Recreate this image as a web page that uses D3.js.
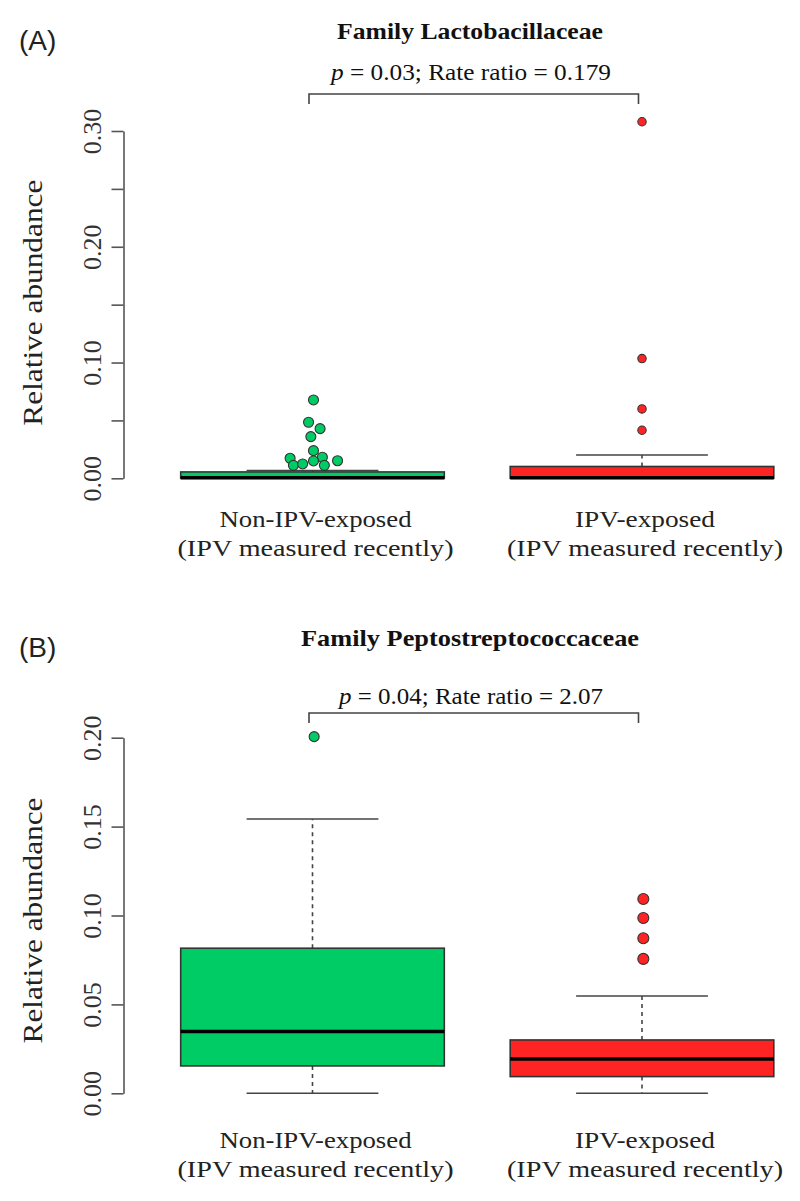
<!DOCTYPE html>
<html>
<head>
<meta charset="utf-8">
<script src="https://cdn.jsdelivr.net/npm/d3@7"></script>
<style>
  html, body { margin: 0; padding: 0; background: #fff; }
  svg { display: block; }
</style>
</head>
<body>
<svg id="chart" width="800" height="1201"></svg>
<script>
// ---------- data ----------
const groups = ["Non-IPV-exposed", "IPV-exposed"];
const groupSubLabel = "(IPV measured recently)";
const groupColors = ["#00cc66", "#ff2424"];

// Panel A: Family Lactobacillaceae
const lactoTitle = "Family Lactobacillaceae";
const lactoP = "0.03";
const lactoRR = "0.179";
const lactoTicks = [0, 0.05, 0.10, 0.15, 0.20, 0.25, 0.30];
const lactoTickLabels = ["0.00", "", "0.10", "", "0.20", "", "0.30"];
const lactoLowWhisker = [0, 0];
const lactoQ1 = [0, 0];
const lactoMedian = [0.0005, 0.0005];
const lactoQ3 = [0.0055, 0.0102];
const lactoHighWhisker = [0.0068, 0.0201];
const lactoOutliersNon = [0.0677, 0.0484, 0.0429, 0.0360, 0.0239, 0.0173, 0.0182, 0.0150, 0.0152, 0.0112, 0.0124, 0.0112];
const lactoJitterNon = [0.003, -0.012, 0.023, -0.005, 0.003, -0.068, 0.030, 0.003, 0.076, -0.058, -0.030, 0.036];
const lactoOutliersIPV = [0.308, 0.1034, 0.0599, 0.0415];
const lactoJitterIPV = [0, 0, 0, 0];

// Panel B: Family Peptostreptococcaceae
const peptoTitle = "Family Peptostreptococcaceae";
const peptoP = "0.04";
const peptoRR = "2.07";
const peptoTicks = [0, 0.05, 0.10, 0.15, 0.20];
const peptoTickLabels = ["0.00", "0.05", "0.10", "0.15", "0.20"];
const peptoLowWhisker = [0, 0];
const peptoQ1 = [0.0154, 0.0094];
const peptoMedian = [0.0347, 0.0193];
const peptoQ3 = [0.0816, 0.0300];
const peptoHighWhisker = [0.1543, 0.0547];
const peptoOutliersNon = [0.2006];
const peptoJitterNon = [0.005];
const peptoOutliersIPV = [0.1093, 0.0986, 0.0872, 0.0756];
const peptoJitterIPV = [0.004, 0.004, 0.004, 0.004];

// ---------- drawing ----------
const svg = d3.select("#chart");
const serif = "'Liberation Serif', 'Times New Roman', serif";
const sans = "'Liberation Sans', Arial, sans-serif";

const x = d3.scalePoint().domain(groups).range([312.5, 642]);
const boxW = x.step() * 0.8;
const capW = x.step() * 0.4;
const groupLabelLen = [192, 140];

function panel(cfg) {
  const g = svg.append("g");
  const y = d3.scaleLinear().domain(cfg.domain).range(cfg.yRange);

  // panel letter
  g.append("text").attr("x", 19).attr("y", cfg.letterY)
    .attr("font-family", sans).attr("font-size", 28).attr("fill", "#222")
    .text(cfg.letter);

  // title
  g.append("text").attr("x", 470).attr("y", cfg.titleY)
    .attr("text-anchor", "middle").attr("font-family", serif)
    .attr("font-weight", "bold").attr("font-size", 23).attr("fill", "#111")
    .attr("textLength", cfg.titleLen).attr("lengthAdjust", "spacingAndGlyphs")
    .text(cfg.title);

  // p-value text
  const pt = g.append("text").attr("x", 471).attr("y", cfg.pY)
    .attr("text-anchor", "middle").attr("font-family", serif)
    .attr("font-size", 23).attr("fill", "#111")
    .attr("textLength", cfg.pLen).attr("lengthAdjust", "spacingAndGlyphs");
  pt.append("tspan").attr("font-style", "italic").text("p");
  pt.append("tspan").text(" = " + cfg.p + "; Rate ratio = " + cfg.rr);

  // bracket
  const bx0 = x(groups[0]) - 3.5, bx1 = x(groups[1]) - 3.5;
  g.append("path")
    .attr("d", `M${bx0},${cfg.bracketY + 10}V${cfg.bracketY}H${bx1}V${cfg.bracketY + 10}`)
    .attr("fill", "none").attr("stroke", "#444").attr("stroke-width", 1.6);

  // y axis
  const axisX = 123.5;
  const axis = d3.axisLeft(y).tickValues(cfg.ticks)
    .tickFormat((d, i) => cfg.tickLabels[i]).tickSize(12).tickSizeOuter(0);
  const ag = g.append("g").attr("transform", `translate(${axisX},0)`).call(axis);
  ag.select(".domain").attr("stroke", "#555").attr("stroke-width", 1.6);
  ag.selectAll(".tick line").attr("stroke", "#555").attr("stroke-width", 1.6);
  ag.selectAll(".tick text")
    .attr("font-family", serif).attr("font-size", 26).attr("fill", "#333")
    .attr("text-anchor", "middle")
    .attr("x", 0).attr("y", 0).attr("dy", 0)
    .attr("transform", "translate(-23,0) rotate(-90)");

  // y title
  const ymid = (cfg.yRange[0] + cfg.yRange[1]) / 2 + cfg.yTitleShift;
  g.append("text")
    .attr("transform", `translate(42,${ymid}) rotate(-90)`)
    .attr("text-anchor", "middle").attr("font-family", serif)
    .attr("font-size", 27).attr("fill", "#222")
    .attr("textLength", 246).attr("lengthAdjust", "spacingAndGlyphs")
    .text("Relative abundance");

  // boxes
  groups.forEach((grp, i) => {
    const cx = x(grp);
    const gg = g.append("g");
    // dashed whiskers
    gg.append("line").attr("x1", cx).attr("x2", cx)
      .attr("y1", y(cfg.q3[i])).attr("y2", y(cfg.hi[i]))
      .attr("stroke", "#444").attr("stroke-width", 1.6).attr("stroke-dasharray", "4,4");
    gg.append("line").attr("x1", cx).attr("x2", cx)
      .attr("y1", y(cfg.q1[i])).attr("y2", y(cfg.lo[i]))
      .attr("stroke", "#444").attr("stroke-width", 1.6).attr("stroke-dasharray", "4,4");
    // caps
    [cfg.hi[i], cfg.lo[i]].forEach(v => {
      gg.append("line").attr("x1", cx - capW / 2).attr("x2", cx + capW / 2)
        .attr("y1", y(v)).attr("y2", y(v))
        .attr("stroke", "#444").attr("stroke-width", 1.6);
    });
    // box
    gg.append("rect").attr("x", cx - boxW / 2).attr("width", boxW)
      .attr("y", y(cfg.q3[i])).attr("height", Math.max(1, y(cfg.q1[i]) - y(cfg.q3[i])))
      .attr("fill", groupColors[i]).attr("stroke", "#333").attr("stroke-width", 1.6);
    // median
    gg.append("line").attr("x1", cx - boxW / 2).attr("x2", cx + boxW / 2)
      .attr("y1", y(cfg.med[i])).attr("y2", y(cfg.med[i]))
      .attr("stroke", "#000").attr("stroke-width", 3.5);
    // outliers
    const outs = cfg.outliers[i], jit = cfg.jitter[i];
    gg.selectAll("circle").data(outs).join("circle")
      .attr("cx", (d, j) => cx + jit[j] * x.step())
      .attr("cy", d => y(d))
      .attr("r", cfg.r[i])
      .attr("fill", groupColors[i]).attr("stroke", "#333").attr("stroke-width", 1.1);
  });

  // x labels
  groups.forEach((grp, i) => {
    const cx = x(grp);
    const t = g.append("text").attr("text-anchor", "middle")
      .attr("font-family", serif).attr("font-size", 24).attr("fill", "#222");
    t.append("tspan").attr("x", cx + 3).attr("y", cfg.xLabY).text(grp)
      .attr("textLength", groupLabelLen[i]).attr("lengthAdjust", "spacingAndGlyphs");
    t.append("tspan").attr("x", cx + 3).attr("y", cfg.xLabY + 29).text(groupSubLabel)
      .attr("textLength", 276).attr("lengthAdjust", "spacingAndGlyphs");
  });
}

panel({
  letter: "(A)", letterY: 50,
  title: lactoTitle, titleY: 39, titleLen: 266,
  p: lactoP, rr: lactoRR, pY: 80, pLen: 280,
  bracketY: 94,
  domain: [0, 0.30], yRange: [478.3, 131],
  ticks: lactoTicks, tickLabels: lactoTickLabels, yTitleShift: -2,
  lo: lactoLowWhisker, q1: lactoQ1, med: lactoMedian, q3: lactoQ3, hi: lactoHighWhisker,
  outliers: [lactoOutliersNon, lactoOutliersIPV],
  jitter: [lactoJitterNon, lactoJitterIPV],
  r: [5, 4.2],
  xLabY: 527
});

panel({
  letter: "(B)", letterY: 657,
  title: peptoTitle, titleY: 646, titleLen: 338,
  p: peptoP, rr: peptoRR, pY: 704, pLen: 264,
  bracketY: 713,
  domain: [0, 0.20], yRange: [1093.3, 737.7],
  ticks: peptoTicks, tickLabels: peptoTickLabels, yTitleShift: 5,
  lo: peptoLowWhisker, q1: peptoQ1, med: peptoMedian, q3: peptoQ3, hi: peptoHighWhisker,
  outliers: [peptoOutliersNon, peptoOutliersIPV],
  jitter: [peptoJitterNon, peptoJitterIPV],
  r: [5, 5.5],
  xLabY: 1148
});
</script>
</body>
</html>
